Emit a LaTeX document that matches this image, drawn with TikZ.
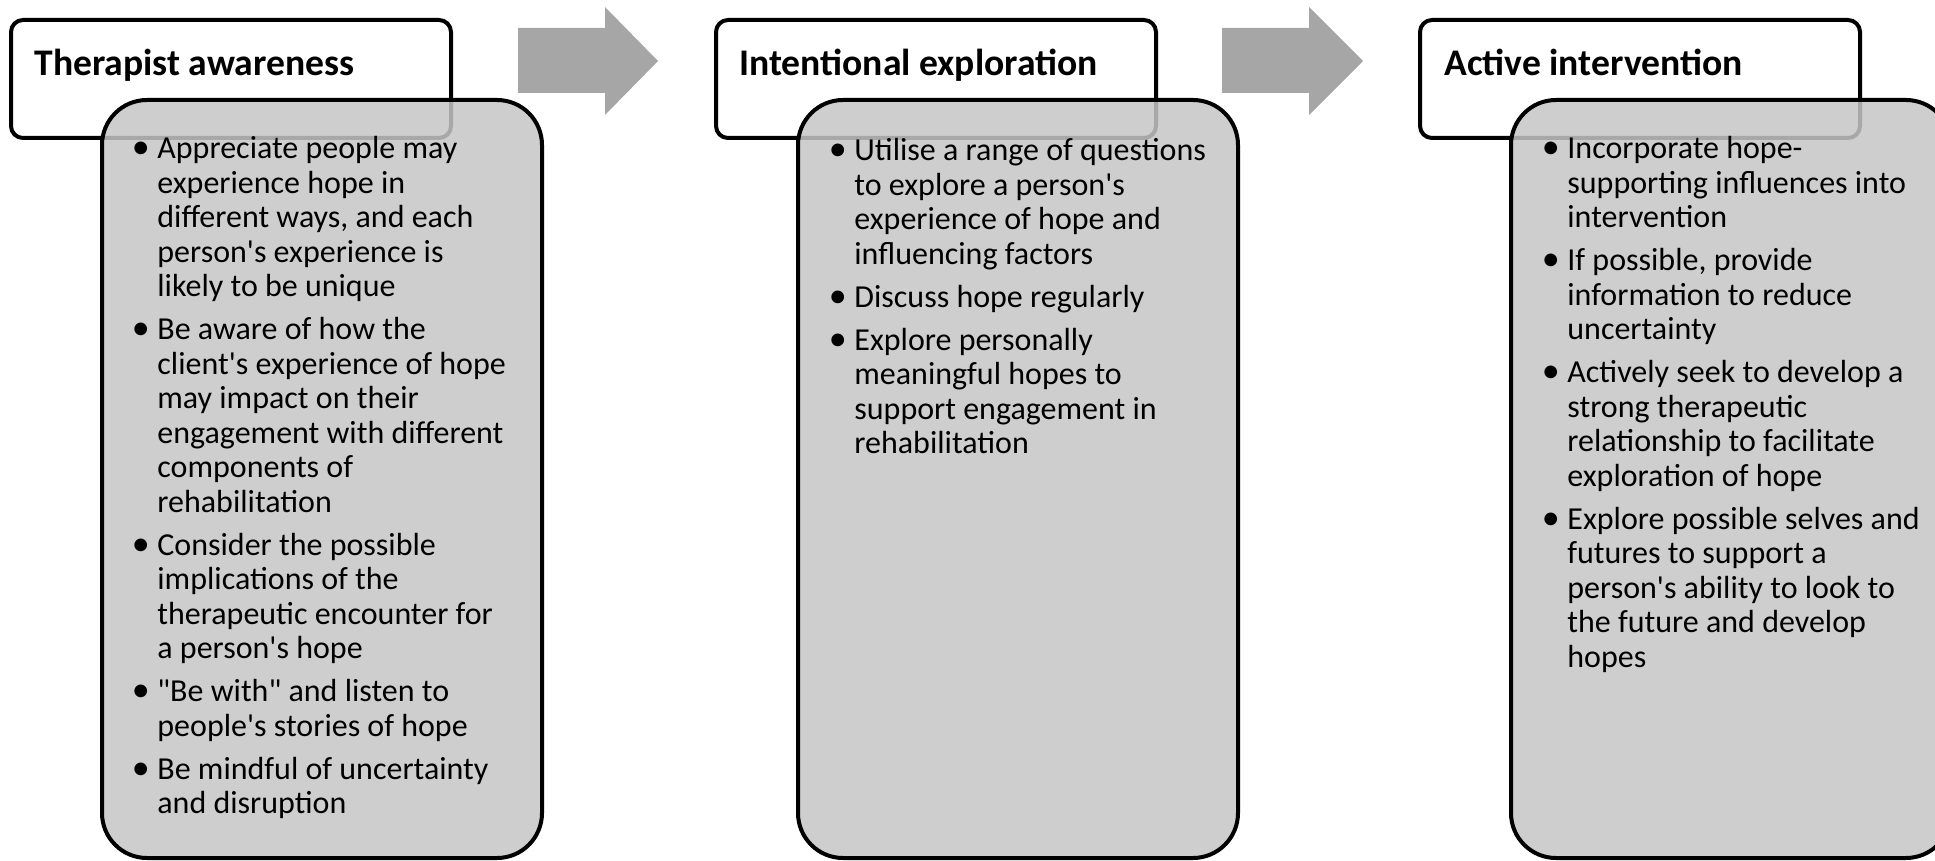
\documentclass[tikz,border=0pt]{standalone}
\usepackage{fontspec}
\setmainfont{Carlito}[Ligatures=TeXOff]
\definecolor{bodyfill}{gray}{0.776}
\definecolor{arrowgray}{HTML}{A6A6A6}
\newcommand{\bl}{\makebox[11pt][l]{\makebox[5.5pt][c]{\fontsize{18}{17.25}\selectfont\textbullet}}}
\tikzset{
  headbox/.style={draw=black, line width=2pt, rounded corners=6pt, fill=white,
    minimum width=220pt, minimum height=59pt, inner sep=0pt, outer sep=0pt, anchor=north west},
  bodybox/.style={draw=black, line width=2pt, rounded corners=22.5pt, fill=bodyfill, fill opacity=0.85,
    draw opacity=1, minimum width=220pt, minimum height=379pt, inner sep=0pt, outer sep=0pt, anchor=north west},
  headtext/.style={anchor=base west, inner sep=0pt, font=\fontsize{18.8}{21}\selectfont\bfseries},
  bodytext/.style={anchor=base west, inner sep=0pt, font=\fontsize{16}{17.25}\selectfont},
  flowarrow/.style={fill=arrowgray, draw=none},
}
\begin{document}
\begin{tikzpicture}[x=0.5pt,y=-0.5pt]
\useasboundingbox (0,0) rectangle (1935,861);
\clip (0,0) rectangle (1935,861);

% header boxes
\node[headbox] (h1) at (11,20) {};
\node[headbox] (h2) at (716,20) {};
\node[headbox] (h3) at (1420,20) {};

% body boxes
\node[bodybox] (b1) at (102,100) {};
\node[bodybox] (b2) at (798,100) {};
\node[bodybox] (b3) at (1511,100) {};

% arrows
\fill[flowarrow] (518,28) -- (605,28) -- (605,7) -- (658,61) -- (605,115) -- (605,93) -- (518,93) -- cycle;
\fill[flowarrow] (1222,28) -- (1309,28) -- (1309,7) -- (1363,61) -- (1309,115) -- (1309,93) -- (1222,93) -- cycle;

% header texts
\node[headtext] (ht1) at (34,76) {Therapist awareness};
\node[headtext] (ht2) at (739,76) {Intentional exploration};
\node[headtext] (ht3) at (1444,76) {Active intervention};

% body texts
\node[bodytext] (bt1) at (135,159) {\begin{tabular}[t]{@{}l@{}l@{}}
\bl & Appreciate people may\\
 & experience hope in\\
 & different ways, and each\\
 & person's experience is\\
 & likely to be unique\\[4.25pt]
\bl & Be aware of how the\\
 & client's experience of hope\\
 & may impact on their\\
 & engagement with different\\
 & components of\\
 & rehabilitation\\[4.25pt]
\bl & Consider the possible\\
 & implications of the\\
 & therapeutic encounter for\\
 & a person's hope\\[4.25pt]
\bl & "Be with" and listen to\\
 & people's stories of hope\\[4.25pt]
\bl & Be mindful of uncertainty\\
 & and disruption
\end{tabular}};

\node[bodytext] (bt2) at (832,161) {\begin{tabular}[t]{@{}l@{}l@{}}
\bl & Utilise a range of questions\\
 & to explore a person's\\
 & experience of hope and\\
 & influencing factors\\[4.25pt]
\bl & Discuss hope regularly\\[4.25pt]
\bl & Explore personally\\
 & meaningful hopes to\\
 & support engagement in\\
 & rehabilitation
\end{tabular}};

\node[bodytext] (bt3) at (1545,159) {\begin{tabular}[t]{@{}l@{}l@{}}
\bl & Incorporate hope-\\
 & supporting influences into\\
 & intervention\\[4.25pt]
\bl & If possible, provide\\
 & information to reduce\\
 & uncertainty\\[4.25pt]
\bl & Actively seek to develop a\\
 & strong therapeutic\\
 & relationship to facilitate\\
 & exploration of hope\\[4.25pt]
\bl & Explore possible selves and\\
 & futures to support a\\
 & person's ability to look to\\
 & the future and develop\\
 & hopes
\end{tabular}};
\end{tikzpicture}
\end{document}
